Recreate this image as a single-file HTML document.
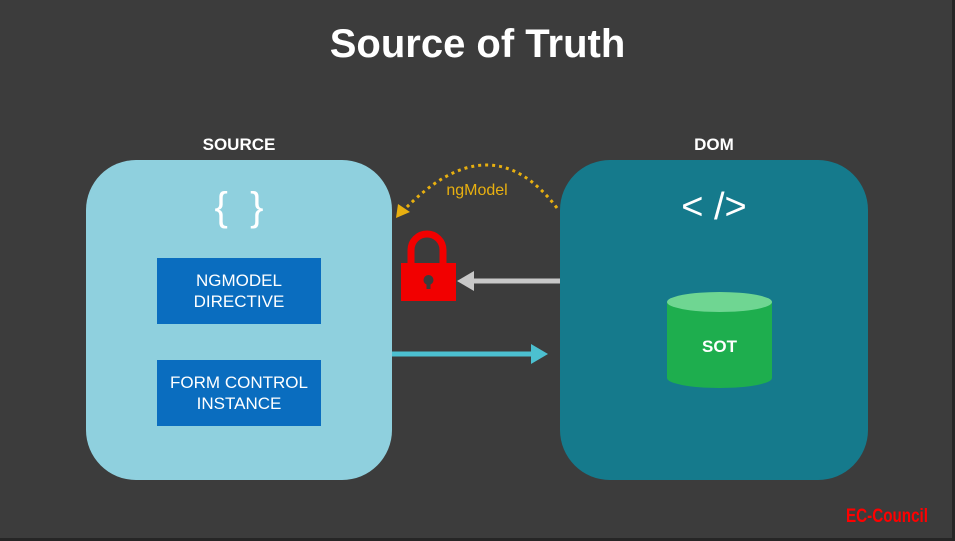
<html><head><style>
body{margin:0;width:955px;height:541px;background:#3c3c3c;overflow:hidden;font-family:"Liberation Sans",sans-serif;position:relative}
.t{position:absolute;color:#fff;text-align:center}
.box{position:absolute;border-radius:50px}
.bl{position:absolute;background:#0a6dbf;color:#fff;font-size:17px;text-align:center;display:flex;align-items:center;justify-content:center;line-height:21px}
</style></head><body>
<div style="position:absolute;left:0;top:0;width:952px;height:538px;border-right:3px solid #262626;border-bottom:3px solid #262626"></div>
<div class="t" style="left:0;width:955px;top:22px;font-size:40px;font-weight:bold">Source of Truth</div>
<div class="t" style="left:86px;width:306px;top:135px;font-size:17px;font-weight:bold">SOURCE</div>
<div class="t" style="left:560px;width:308px;top:135px;font-size:17px;font-weight:bold">DOM</div>
<div class="box" style="left:86px;top:160px;width:306px;height:320px;background:#8fd0de"></div>
<div class="box" style="left:560px;top:160px;width:308px;height:320px;background:#157a8c"></div>
<div class="t" style="left:86px;width:306px;top:185px;font-size:40px">{&nbsp;&nbsp;}</div>
<div class="t" style="left:560px;width:308px;top:186px;font-size:38px">&lt; /&gt;</div>
<div class="bl" style="left:157px;top:258px;width:164px;height:66px">NGMODEL<br>DIRECTIVE</div>
<div class="bl" style="left:157px;top:360px;width:164px;height:66px">FORM CONTROL<br>INSTANCE</div>
<svg style="position:absolute;left:0;top:0" width="955" height="541">
<rect x="667" y="302" width="105" height="76" fill="#1eae4e"/>
<ellipse cx="719.5" cy="378" rx="52.5" ry="10" fill="#1eae4e"/>
<ellipse cx="719.5" cy="302" rx="52.5" ry="10" fill="#6fd692"/>
<text x="719.5" y="352" fill="#fff" font-size="17" font-weight="bold" text-anchor="middle" font-family="Liberation Sans">SOT</text>
<path d="M557 208 Q490 120 402 212" fill="none" stroke="#e8b010" stroke-width="3" stroke-dasharray="3 4"/>
<polygon points="396,218 398,204 410,212" fill="#e8b010"/>
<text x="477" y="195" fill="#e8b010" font-size="16" text-anchor="middle" font-family="Liberation Sans">ngModel</text>
<line x1="560" y1="281" x2="470" y2="281" stroke="#c8c8c8" stroke-width="5"/>
<polygon points="457,281 474,271 474,291" fill="#c8c8c8"/>
<line x1="392" y1="354" x2="535" y2="354" stroke="#4cc0d0" stroke-width="5"/>
<polygon points="548,354 531,344 531,364" fill="#4cc0d0"/>
<path d="M411 265 V250 a16 16 0 0 1 32 0 V265" fill="none" stroke="#f20000" stroke-width="7"/>
<rect x="401" y="263" width="55" height="38" fill="#f20000"/>
<circle cx="428.5" cy="280" r="5" fill="#3c3c3c"/><rect x="426.5" y="280" width="4" height="9" fill="#3c3c3c"/>
<text x="887" y="522" fill="#ff0000" font-size="19" font-weight="bold" text-anchor="middle" font-family="Liberation Sans" textLength="82" lengthAdjust="spacingAndGlyphs">EC-Council</text>
</svg>
</body></html>
